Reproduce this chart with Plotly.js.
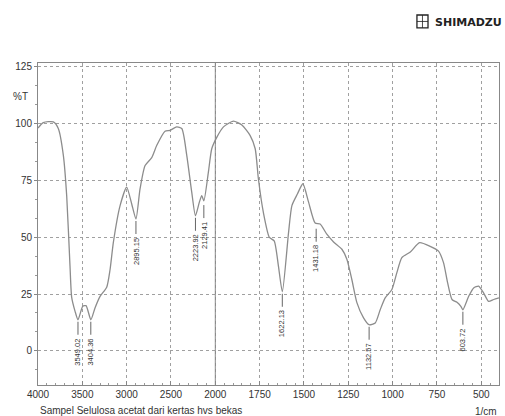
<!DOCTYPE html>
<html>
<head>
<meta charset="utf-8">
<script src="https://cdn.plot.ly/plotly-3.0.1.min.js"></script>
<style>
html,body{margin:0;padding:0;background:#fff;}
#chart{width:505px;height:416px;}
</style>
</head>
<body>
<div id="chart"></div>
<script>
// Wavenumber (1/cm) and transmittance (%T)
const wavenumber = [4000, 3940, 3827, 3771, 3714, 3676, 3639, 3620, 3582, 3549, 3495, 3458, 3404, 3357, 3300, 3225, 3187, 3150, 3074, 3000, 2943, 2895, 2849, 2792, 2717, 2660, 2567, 2510, 2435, 2378, 2322, 2266, 2224, 2180, 2153, 2129, 2078, 2040, 1991, 1954, 1898, 1850, 1804, 1775, 1757, 1729, 1695, 1668, 1644, 1622, 1587, 1568, 1537, 1506, 1474, 1437, 1409, 1371, 1333, 1286, 1258, 1230, 1201, 1164, 1133, 1098, 1070, 1042, 1004, 976, 948, 900, 848, 788, 741, 713, 690, 665, 637, 615, 604, 571, 543, 515, 487, 459, 430, 400];
const transmittance = [98, 100.4, 100.7, 97.8, 86, 68, 37.3, 23.5, 17.4, 13.7, 19.6, 19.9, 13.7, 18.9, 24, 28, 35.8, 47.7, 63.9, 72, 64.6, 58, 71.2, 81.5, 85, 90.4, 96.6, 97, 98.5, 97.8, 86, 69.8, 59.4, 65.4, 68.3, 66, 78.6, 88.9, 94, 98.5, 101, 99.3, 94.8, 88.9, 75.7, 60.9, 49.9, 48.4, 37.3, 26, 52, 63.9, 69, 73.5, 65.4, 56.2, 55.8, 51.3, 47.9, 44.7, 40.3, 31.4, 21.1, 14.5, 11.5, 12.3, 18.1, 23.3, 27, 34.4, 41, 43.5, 47.6, 46, 43.9, 38.8, 30, 22.6, 21.4, 19.6, 18.1, 24, 27.7, 28.5, 25.5, 21.8, 22.6, 23.3];

// Peak labels
const peakLabels = ['3549.02', '3404.36', '2895.15', '2223.92', '2129.41', '1622.13', '1431.18', '1132.57', '603.72'];
const peakT = [13.7, 13.7, 58, 59.4, 65, 26, 54.6, 11.5, 18.1];

// Axis ticks
const xTickWn = [4000, 3500, 3000, 2500, 2000, 1750, 1500, 1250, 1000, 750, 500];
const yTicks = [0, 25, 50, 75, 100, 125];

// Shimadzu-style axis: scale doubles below 2000 1/cm
function axisPos(w) { return w >= 2000 ? w : 2 * w - 2000; }

const xs = wavenumber.map(axisPos);
const font = 'Liberation Sans, Arial, sans-serif';

const annotations = peakLabels.map((lab, i) => ({
  x: axisPos(parseFloat(lab)), y: peakT[i], xref: 'x', yref: 'y',
  text: lab, textangle: -90, showarrow: false,
  xanchor: 'center', yanchor: 'middle', yshift: -(17 + lab.length * 2.15),
  font: {family: font, size: 7.5, color: '#333'}
}));

annotations.push(
  {xref: 'paper', yref: 'paper', x: 0, y: 0, xanchor: 'left', yanchor: 'middle', yshift: -25,
   text: 'Sampel Selulosa acetat dari kertas hvs bekas', showarrow: false,
   font: {family: font, size: 10, color: '#333'}},
  {xref: 'paper', yref: 'paper', x: 1, y: 0, xanchor: 'right', yanchor: 'middle', yshift: -26,
   text: '1/cm', showarrow: false, font: {family: font, size: 10, color: '#333'}},
  {xref: 'paper', yref: 'paper', x: -0.039, y: 0.8975, xanchor: 'center', yanchor: 'middle',
   text: '%T', showarrow: false, font: {family: font, size: 10, color: '#333'}},
  {xref: 'paper', yref: 'paper', x: 1.01, y: 1.127, xanchor: 'right', yanchor: 'middle',
   text: '<b>SHIMADZU</b>', showarrow: false,
   font: {family: 'DejaVu Sans, sans-serif', size: 11, color: '#222'}}
);

const shapes = [
  {type: 'line', xref: 'x', yref: 'paper', x0: 2000, x1: 2000, y0: 0, y1: 1,
   line: {color: '#888', width: 1}},
  {type: 'rect', xref: 'paper', yref: 'paper', x0: 0.822, x1: 0.846, y0: 1.109, y1: 1.149,
   line: {color: '#222', width: 1.3}},
  {type: 'line', xref: 'paper', yref: 'paper', x0: 0.834, x1: 0.834, y0: 1.109, y1: 1.149,
   line: {color: '#222', width: 0.8}},
  {type: 'line', xref: 'paper', yref: 'paper', x0: 0.822, x1: 0.846, y0: 1.129, y1: 1.129,
   line: {color: '#222', width: 0.8}}
];

// short leader lines under each labelled peak
peakLabels.forEach((lab, i) => {
  shapes.push({
    type: 'line', xref: 'x', yref: 'y', ysizemode: 'pixel', yanchor: peakT[i],
    x0: axisPos(parseFloat(lab)), x1: axisPos(parseFloat(lab)), y0: -2, y1: -15,
    line: {color: '#555', width: 0.9}
  });
});

const trace = {
  x: xs, y: transmittance, type: 'scatter', mode: 'lines',
  line: {color: '#8c8c8c', width: 1.3, shape: 'spline', smoothing: 0.6},
  hoverinfo: 'skip'
};

const layout = {
  width: 505, height: 416,
  margin: {l: 38, r: 6, t: 63, b: 31},
  paper_bgcolor: '#fff', plot_bgcolor: '#fff',
  showlegend: false,
  xaxis: {
    range: [4000, -1200], tickmode: 'array',
    tickvals: xTickWn.map(axisPos), ticktext: xTickWn.map(String),
    showgrid: true, gridcolor: '#a0a0a0', griddash: 'dot', gridwidth: 1,
    zeroline: false, showline: true, linecolor: '#888', linewidth: 1, mirror: true,
    ticks: 'inside', ticklen: 4, tickcolor: '#888',
    minor: {dtick: 100, tick0: 0, ticks: 'inside', ticklen: 2, tickcolor: '#999', showgrid: false},
    tickfont: {family: font, size: 10, color: '#333'}
  },
  yaxis: {
    range: [-15, 126.6], tickmode: 'array', tickvals: yTicks,
    showgrid: true, gridcolor: '#a0a0a0', griddash: 'dot', gridwidth: 1,
    zeroline: false, showline: true, linecolor: '#888', linewidth: 1, mirror: true,
    ticks: 'outside', ticklen: 3, tickcolor: '#888',
    minor: {dtick: 25 / 3, tick0: 0, ticks: 'outside', ticklen: 2, tickcolor: '#999', showgrid: false},
    tickfont: {family: font, size: 10, color: '#333'}
  },
  annotations: annotations,
  shapes: shapes
};

Plotly.newPlot('chart', [trace], layout, {staticPlot: true, displayModeBar: false});
</script>
</body>
</html>
